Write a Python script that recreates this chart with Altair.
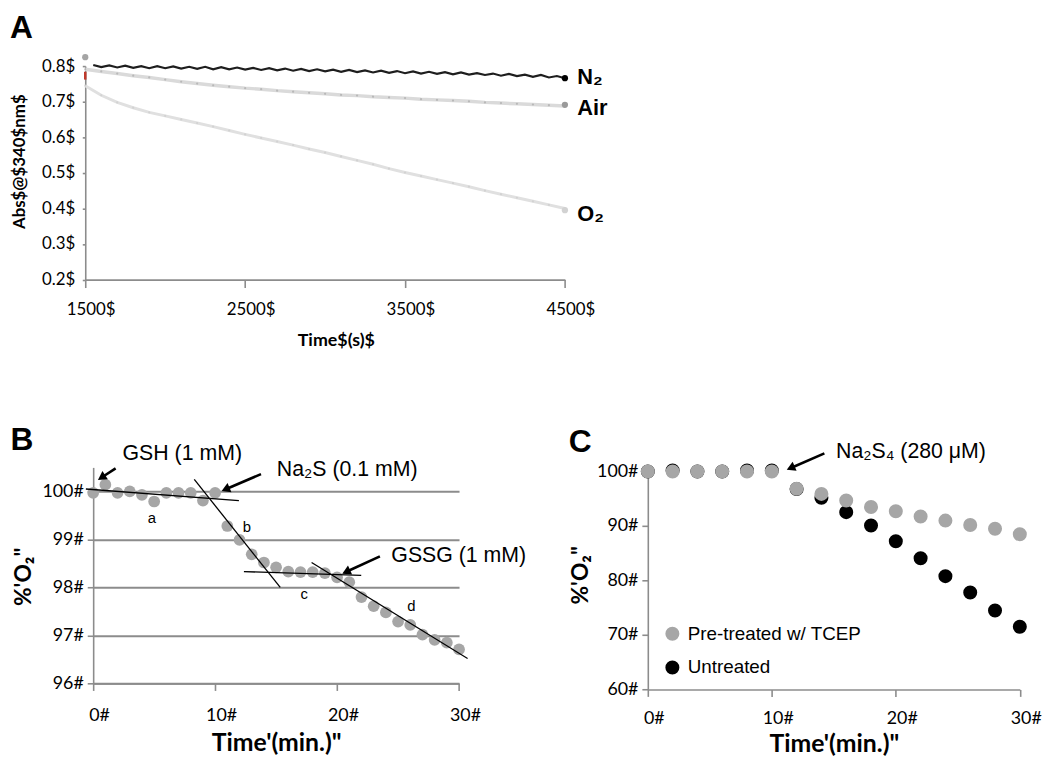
import math
import altair as alt
import pandas as pd

NUM_FONT = "Lato"
TXT_FONT = "Liberation Sans"
AXIS_GREY = "#8c8c8c"
PT_GREY = "#a6a6a6"

# ---------------- Panel A data ----------------
a_x_ticks = [1500, 2500, 3500, 4500]
a_y_ticks = [0.2, 0.3, 0.4, 0.5, 0.6, 0.7, 0.8]

a_n2_time = list(range(1550, 4501, 50))
a_n2_abs = [0.803, 0.797, 0.802, 0.796, 0.801, 0.795, 0.800, 0.794, 0.800, 0.794,
            0.799, 0.793, 0.798, 0.792, 0.798, 0.791, 0.797, 0.791, 0.796, 0.790,
            0.795, 0.789, 0.794, 0.788, 0.793, 0.787, 0.792, 0.786, 0.791, 0.785,
            0.790, 0.784, 0.789, 0.783, 0.788, 0.782, 0.787, 0.781, 0.786, 0.780,
            0.785, 0.779, 0.784, 0.778, 0.783, 0.777, 0.782, 0.776, 0.780, 0.775,
            0.779, 0.773, 0.778, 0.772, 0.776, 0.770, 0.775, 0.768, 0.772, 0.766]

a_air_time = list(range(1500, 4501, 100))
a_air_abs = [0.791, 0.785, 0.779, 0.773, 0.768, 0.762, 0.756, 0.751, 0.746, 0.742,
             0.738, 0.735, 0.731, 0.728, 0.725, 0.722, 0.719, 0.717, 0.714, 0.712,
             0.710, 0.707, 0.705, 0.703, 0.701, 0.698, 0.696, 0.694, 0.692, 0.690, 0.688]

a_o2_time = list(range(1500, 4501, 100))
a_o2_abs = [0.745, 0.718, 0.698, 0.683, 0.670, 0.660, 0.650, 0.640, 0.630, 0.619,
            0.608, 0.598, 0.588, 0.578, 0.567, 0.557, 0.546, 0.535, 0.524, 0.512,
            0.501, 0.491, 0.481, 0.471, 0.461, 0.450, 0.440, 0.430, 0.420, 0.410, 0.400]

a_series = ["N₂", "Air", "O₂"]
a_end_time = [4500, 4500, 4500]
a_end_abs = [0.766, 0.691, 0.395]
a_label_abs = [0.7705, 0.683, 0.3845]
a_start_time = [1500]
a_start_abs = [0.825]
a_red_time = [1500]
a_red_lo = [0.762]
a_red_hi = [0.784]
a_letter = ["A"]
a_letter_x = [1029.2]
a_letter_y = [0.8790]
a_anchor_x = [1026.1]
a_anchor_y = [0.9508]

# ---------------- Panel B data ----------------
b_x_ticks = [0, 10, 20, 30]
b_y_ticks = [96, 97, 98, 99, 100]
b_time = list(range(0, 31))
b_o2 = [99.97, 100.14, 99.97, 100.0, 99.93, 99.79, 99.97, 99.97, 99.97, 99.81,
        99.97, 99.28, 98.99, 98.69, 98.52, 98.42, 98.33, 98.32, 98.32, 98.30,
        98.21, 98.11, 97.80, 97.61, 97.48, 97.29, 97.22, 97.02, 96.91, 96.85, 96.71]
b_fit_x1 = [-0.6, 8.29, 12.36, 17.91]
b_fit_y1 = [100.05, 100.25, 98.33, 98.52]
b_fit_x2 = [11.95, 15.34, 21.98, 30.7]
b_fit_y2 = [99.81, 98.0, 98.25, 96.52]
b_seg_labels = ["a", "b", "c", "d"]
b_seg_x = [4.82, 12.6, 17.3, 26.1]
b_seg_y = [99.45, 99.26, 97.87, 97.61]
b_notes = ["GSH (1 mM)", "Na₂S (0.1 mM)", "GSSG (1 mM)"]
b_note_x = [2.41, 15.06, 24.45]
b_note_y = [100.654, 100.324, 98.52]
b_arrow_tail_x = [1.84, 13.76, 23.51]
b_arrow_tail_y = [100.48, 100.36, 98.647]
b_arrow_tip_x = [0.49, 10.64, 20.53]
b_arrow_tip_y = [100.256, 100.02, 98.30]
b_letter = ["B"]
b_letter_x = [-6.77]
b_letter_y = [100.86]

# ---------------- Panel C data ----------------
c_x_ticks = [0, 10, 20, 30]
c_y_ticks = [60, 70, 80, 90, 100]
c_time = [0, 2, 4, 6, 8, 10, 12, 14, 16, 18, 20, 22, 24, 26, 28, 30]
c_tcep = [100, 100, 100, 100, 100, 100, 96.85, 95.9, 94.7, 93.5, 92.7, 91.76, 91.0, 90.2, 89.5, 88.5]
c_untreated = [100, 100.2, 100, 100, 100.2, 100.2, 96.8, 95.2, 92.55, 90.1, 87.2, 84.1, 80.8, 77.8, 74.5, 71.5]
c_groups = ["Pre-treated w/ TCEP", "Untreated"]
c_notes = ["Na₂S₄ (280 μM)"]
c_note_x = [15.18]
c_note_y = [102.44]
c_arrow_tail_x = [14.24]
c_arrow_tail_y = [103.35]
c_arrow_tip_x = [11.31]
c_arrow_tip_y = [100.44]
c_letter = ["C"]
c_letter_x = [-6.37]
c_letter_y = [103.58]

# ---------------- layout ----------------
A_W, A_H = 484.3, 215.6
B_W, B_H = 369.4, 218.2
C_W, C_H = 375.6, 224.2
A_XD, A_YD = [1500, 4500], [0.2, 0.8]
B_XD, B_YD = [0, 30], [96, 100.5]
C_XD, C_YD = [0, 30], [60, 100.764]
HEAD = 100


def sc(dom):
    return alt.Scale(domain=dom, nice=False, zero=False)


def axis(**kw):
    d = dict(domainColor=AXIS_GREY, domainWidth=1.6, tickColor=AXIS_GREY, tickWidth=1.6,
             labelFont=NUM_FONT, labelColor="#000000", titleFont=NUM_FONT,
             titleColor="#000000", titleFontWeight="bold", grid=False,
             labelFlush=False, labelOverlap=False)
    d.update(kw)
    return alt.Axis(**d)


class Panel:
    """Holds one panel's scales and axes so that every layer shares them identically."""

    def __init__(self, xd, yd, ax, ay):
        self.xs, self.ys, self.ax, self.ay = sc(xd), sc(yd), ax, ay

    def X(self, f):
        return alt.X(f, scale=self.xs, axis=self.ax)

    def Y(self, f):
        return alt.Y(f, scale=self.ys, axis=self.ay)


def arrows(tx, ty, hx, hy, xd, yd, w, h):
    pxx = w / (xd[1] - xd[0])
    pxy = h / (yd[1] - yd[0])
    back = 0.866 * math.sqrt(HEAD) / 2
    rows = []
    for a, b, c, d in zip(tx, ty, hx, hy):
        dxp = (c - a) * pxx
        dyp = -(d - b) * pxy
        L = math.hypot(dxp, dyp)
        ux, uy = dxp / L, dyp / L
        ang = math.degrees(math.atan2(ux, -uy)) % 360
        cx = c - ux * back / pxx
        cy = d + uy * back / pxy
        rows.append(dict(x1=a, y1=b, x2=cx, y2=cy, ang=ang))
    return pd.DataFrame(rows)


def text_layer(p, df, **mk):
    return alt.Chart(df).mark_text(**mk).encode(x=p.X("x:Q"), y=p.Y("y:Q"), text="s:N")


def arrow_layers(p, adf):
    shaft = alt.Chart(adf).mark_rule(color="#000000", strokeWidth=2.6).encode(
        x=p.X("x1:Q"), x2="x2:Q", y=p.Y("y1:Q"), y2="y2:Q")
    head = alt.Chart(adf).mark_point(shape="triangle", filled=True, size=HEAD,
                                     color="#000000", opacity=1).encode(
        x=p.X("x2:Q"), y=p.Y("y2:Q"), angle=alt.Angle("ang:Q", scale=None))
    return [shaft, head]


# ---------------- Panel A ----------------
pA = Panel(A_XD, A_YD,
           axis(values=a_x_ticks, labelExpr="datum.value + '$'", tickSize=8, labelPadding=14.6,
                labelFontSize=17, labelOffset=5.5, title="Time$(s)$", titleFontSize=18,
                titleX=253, titleY=66.7, titleAlign="center", titleBaseline="alphabetic"),
           axis(values=a_y_ticks, labelExpr="format(datum.value, '.1f') + '$'", tickSize=3,
                labelPadding=7.5, labelFontSize=17, title="Abs$@$340$nm$", titleFontSize=17,
                titleAngle=270, titleX=-66.5, titleY=96, titleAlign="center",
                titleBaseline="middle"))

dfA_o2 = pd.DataFrame({"t": a_o2_time, "v": a_o2_abs})
dfA_air = pd.DataFrame({"t": a_air_time, "v": a_air_abs})
dfA_n2 = pd.DataFrame({"t": a_n2_time, "v": a_n2_abs})

a_layers = [
    alt.Chart(dfA_o2).mark_line(color="#e0e0e0", strokeWidth=3).encode(x=pA.X("t:Q"), y=pA.Y("v:Q")),
    alt.Chart(dfA_o2).mark_point(filled=True, size=5, color="#cccccc").encode(x=pA.X("t:Q"), y=pA.Y("v:Q")),
    alt.Chart(dfA_air).mark_line(color="#dadada", strokeWidth=3.5).encode(x=pA.X("t:Q"), y=pA.Y("v:Q")),
    alt.Chart(dfA_air).mark_point(filled=True, size=5, color="#a9a9a9").encode(x=pA.X("t:Q"), y=pA.Y("v:Q")),
    alt.Chart(dfA_n2).mark_line(color="#1e1e1e", strokeWidth=2.2).encode(x=pA.X("t:Q"), y=pA.Y("v:Q")),
    alt.Chart(pd.DataFrame({"t": a_start_time, "v": a_start_abs})).mark_circle(
        size=40, color="#a5a5a5", opacity=1).encode(x=pA.X("t:Q"), y=pA.Y("v:Q")),
    alt.Chart(pd.DataFrame({"t": a_red_time, "lo": a_red_lo, "hi": a_red_hi})).mark_rule(
        color="#c0392b", strokeWidth=2.5).encode(x=pA.X("t:Q"), y=pA.Y("lo:Q"), y2="hi:Q"),
    alt.Chart(pd.DataFrame({"t": a_end_time, "v": a_end_abs, "s": a_series})).mark_circle(
        size=40, opacity=1).encode(
        x=pA.X("t:Q"), y=pA.Y("v:Q"),
        color=alt.Color("s:N", scale=alt.Scale(domain=a_series,
                        range=["#000000", "#9a9a9a", "#d2d2d2"]), legend=None)),
    alt.Chart(pd.DataFrame({"t": a_end_time, "v": a_label_abs, "s": a_series})).mark_text(
        align="left", baseline="middle", dx=12.4, font=TXT_FONT, fontSize=22,
        fontWeight="bold", color="#000000").encode(x=pA.X("t:Q"), y=pA.Y("v:Q"), text="s:N"),
    text_layer(pA, pd.DataFrame({"x": a_letter_x, "y": a_letter_y, "s": a_letter}),
               align="left", baseline="alphabetic", font=TXT_FONT, fontSize=32,
               fontWeight="bold", color="#000000"),
    alt.Chart(pd.DataFrame({"t": a_anchor_x, "v": a_anchor_y})).mark_point(
        size=1, filled=True, strokeWidth=0, opacity=0).encode(x=pA.X("t:Q"), y=pA.Y("v:Q")),
]
chartA = alt.layer(*a_layers).properties(width=A_W, height=A_H)

# ---------------- Panel B ----------------
pB = Panel(B_XD, B_YD,
           axis(values=b_x_ticks, labelExpr="datum.value + '#'", tickSize=7, labelPadding=16,
                labelFontSize=18, labelOffset=6, title="Time'(min.)\"", titleFontSize=25,
                titleY=68, titleBaseline="alphabetic"),
           axis(values=b_y_ticks, labelExpr="datum.value + '#'", tickSize=6, labelPadding=4,
                labelFontSize=18, grid=True, gridColor=AXIS_GREY, gridWidth=2,
                title="%'O₂\"", titleFontSize=23, titleAngle=270, titleX=-70, titleY=110,
                titleAlign="center", titleBaseline="middle"))

b_layers = [
    alt.Chart(pd.DataFrame({"t": b_time, "v": b_o2})).mark_circle(
        size=140, color=PT_GREY, opacity=1).encode(x=pB.X("t:Q"), y=pB.Y("v:Q")),
    alt.Chart(pd.DataFrame({"x1": b_fit_x1, "y1": b_fit_y1, "x2": b_fit_x2, "y2": b_fit_y2}))
    .mark_rule(color="#000000", strokeWidth=1.3).encode(
        x=pB.X("x1:Q"), x2="x2:Q", y=pB.Y("y1:Q"), y2="y2:Q"),
    text_layer(pB, pd.DataFrame({"x": b_seg_x, "y": b_seg_y, "s": b_seg_labels}),
               align="center", baseline="middle", font=TXT_FONT, fontSize=15, color="#000000"),
    text_layer(pB, pd.DataFrame({"x": b_note_x, "y": b_note_y, "s": b_notes}),
               align="left", baseline="alphabetic", font=TXT_FONT, fontSize=21.5,
               color="#000000"),
    *arrow_layers(pB, arrows(b_arrow_tail_x, b_arrow_tail_y, b_arrow_tip_x, b_arrow_tip_y,
                             B_XD, B_YD, B_W, B_H)),
    text_layer(pB, pd.DataFrame({"x": b_letter_x, "y": b_letter_y, "s": b_letter}),
               align="left", baseline="alphabetic", font=TXT_FONT, fontSize=32,
               fontWeight="bold", color="#000000"),
]
chartB = alt.layer(*b_layers).properties(width=B_W, height=B_H)

# ---------------- Panel C ----------------
pC = Panel(C_XD, C_YD,
           axis(values=c_x_ticks, labelExpr="datum.value + '#'", tickSize=7, labelPadding=13,
                labelFontSize=18, labelOffset=6, title="Time'(min.)\"", titleFontSize=25,
                titleY=63, titleBaseline="alphabetic"),
           axis(values=c_y_ticks, labelExpr="datum.value + '#'", tickSize=6, labelPadding=4,
                labelFontSize=18, title="%'O₂\"", titleFontSize=23, titleAngle=270,
                titleX=-67.7, titleY=108.5, titleAlign="center", titleBaseline="middle"))

dfC = pd.concat([
    pd.DataFrame({"t": c_time, "v": c_untreated, "g": c_groups[1]}),
    pd.DataFrame({"t": c_time, "v": c_tcep, "g": c_groups[0]}),
], ignore_index=True)

c_layers = [
    alt.Chart(dfC).mark_circle(size=200, opacity=1).encode(
        x=pC.X("t:Q"), y=pC.Y("v:Q"),
        color=alt.Color("g:N", scale=alt.Scale(domain=c_groups, range=[PT_GREY, "#000000"]),
                        legend=alt.Legend(orient="none", legendX=15.3, legendY=158.5, title=None,
                                          symbolSize=200, symbolType="circle",
                                          symbolStrokeWidth=0, labelFont=TXT_FONT,
                                          labelFontSize=19, labelColor="#000000",
                                          labelLimit=0, rowPadding=14, labelOffset=6,
                                          padding=0))),
    text_layer(pC, pd.DataFrame({"x": c_note_x, "y": c_note_y, "s": c_notes}),
               align="left", baseline="alphabetic", font=TXT_FONT, fontSize=21.5,
               color="#000000"),
    *arrow_layers(pC, arrows(c_arrow_tail_x, c_arrow_tail_y, c_arrow_tip_x, c_arrow_tip_y,
                             C_XD, C_YD, C_W, C_H)),
    text_layer(pC, pd.DataFrame({"x": c_letter_x, "y": c_letter_y, "s": c_letter}),
               align="left", baseline="alphabetic", font=TXT_FONT, fontSize=32,
               fontWeight="bold", color="#000000"),
]
chartC = alt.layer(*c_layers).properties(width=C_W, height=C_H)


def spacer(w):
    return alt.Chart(pd.DataFrame({"z": [0]})).mark_point(opacity=0).properties(width=w, height=1)


row2 = alt.hconcat(spacer(7.3), chartB, spacer(190.0), chartC, spacing=0,
                   bounds="flush").resolve_scale(color="independent")
chart = alt.vconcat(chartA, row2, spacing=189.2, bounds="flush").resolve_scale(
    color="independent").properties(padding=0).configure_view(stroke=None)

chart.save("out.html", embed_options={"renderer": "svg", "actions": False})
